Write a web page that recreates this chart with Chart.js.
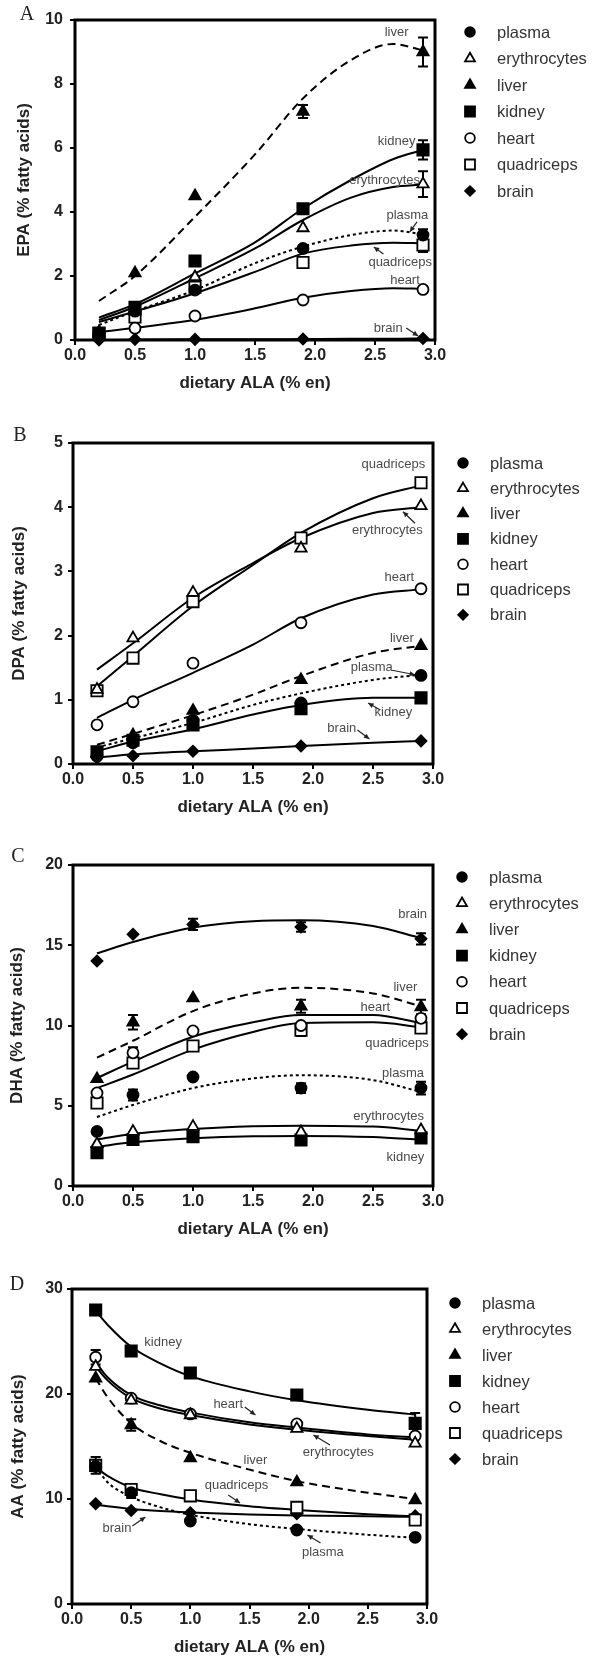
<!DOCTYPE html>
<html>
<head>
<meta charset="utf-8">
<script src="https://cdn.jsdelivr.net/npm/chart.js@4.4.1/dist/chart.umd.min.js"></script>
<style>
  body { margin: 0; background: #fff; }
  .panel { width: 592px; height: 415px; }
  canvas { display: block; }
</style>
</head>
<body>
<div class="panel"><canvas id="chartA" width="592" height="415"></canvas></div>
<div class="panel"><canvas id="chartB" width="592" height="415"></canvas></div>
<div class="panel"><canvas id="chartC" width="592" height="415"></canvas></div>
<div class="panel"><canvas id="chartD" width="592" height="415"></canvas></div>
<script>
// dietary ALA doses (% en) and the x positions where the fitted curves were read
const doses = [0.2, 0.5, 1.0, 1.9, 2.9];
const fitDosesEPA = [0.2, 0.5, 1.0, 1.5, 1.9, 2.3, 2.65, 2.9];
const fitDoses = [0.2, 0.5, 1.0, 1.5, 1.9, 2.5, 2.9];
const fitDosesAA = [0.2, 0.3, 0.5, 0.75, 1.0, 1.5, 1.9, 2.5, 2.9];
const tissues = ['plasma', 'erythrocytes', 'liver', 'kidney', 'heart', 'quadriceps', 'brain'];

// A - EPA
const epaPlasma = [0.2, 0.9, 1.56, 2.86, 3.28];
const epaEry = [0.2, 0.9, 1.97, 3.5, 4.87];
const epaLiver = [0.25, 2.09, 4.5, 7.14, 9.0];
const epaKidney = [0.22, 1.02, 2.47, 4.1, 5.94];
const epaHeart = [0.2, 0.37, 0.75, 1.25, 1.58];
const epaQuad = [0.2, 0.72, 1.65, 2.42, 2.97];
const epaBrain = [0.0, 0.02, 0.02, 0.03, 0.05];
const epaErrLiver = [0, 0, 0, 0.2, 0.45];
const epaErrKidney = [0, 0, 0, 0, 0.3];
const epaErrEry = [0, 0, 0, 0, 0.4];
const epaErrPlasma = [0, 0, 0, 0, 0.18];
const epaErrQuad = [0, 0, 0, 0, 0.22];
const epaErrHeart = [0, 0, 0, 0, 0.1];
const epaFitPlasma = [0.47, 0.9, 1.56, 2.4, 2.92, 3.28, 3.42, 3.3];
const epaFitEry = [0.62, 1.04, 1.93, 2.86, 3.75, 4.45, 4.78, 4.86];
const epaFitLiver = [1.22, 2.0, 3.85, 5.8, 7.55, 8.75, 9.25, 9.05];
const epaFitKidney = [0.7, 1.12, 2.08, 3.05, 4.11, 5.0, 5.65, 5.94];
const epaFitHeart = [0.25, 0.38, 0.63, 0.99, 1.32, 1.53, 1.62, 1.6];
const epaFitQuad = [0.56, 0.89, 1.46, 2.13, 2.7, 2.95, 3.04, 3.02];
const epaFitBrain = [0.0, 0.01, 0.02, 0.02, 0.03, 0.04, 0.04, 0.05];

// B - DPA
const dpaPlasma = [0.12, 0.33, 0.68, 0.95, 1.38];
const dpaEry = [1.16, 1.96, 2.67, 3.36, 4.02];
const dpaLiver = [0.17, 0.45, 0.83, 1.31, 1.84];
const dpaKidney = [0.19, 0.37, 0.61, 0.86, 1.03];
const dpaHeart = [0.61, 0.97, 1.57, 2.2, 2.73];
const dpaQuad = [1.14, 1.65, 2.53, 3.52, 4.38];
const dpaBrain = [0.1, 0.13, 0.2, 0.28, 0.36];
const dpaFitPlasma = [0.26, 0.4, 0.64, 0.92, 1.1, 1.31, 1.39];
const dpaFitEry = [1.47, 1.88, 2.59, 3.13, 3.52, 3.91, 4.0];
const dpaFitLiver = [0.3, 0.47, 0.76, 1.08, 1.37, 1.73, 1.84];
const dpaFitKidney = [0.2, 0.35, 0.54, 0.77, 0.92, 1.03, 1.03];
const dpaFitHeart = [0.72, 1.0, 1.42, 1.86, 2.27, 2.64, 2.72];
const dpaFitQuad = [1.21, 1.68, 2.46, 3.1, 3.6, 4.14, 4.34];
const dpaFitBrain = [0.1, 0.15, 0.2, 0.24, 0.28, 0.33, 0.36];

// C - DHA
const dhaPlasma = [3.4, 5.67, 6.79, 6.1, 6.1];
const dhaEry = [2.62, 3.39, 3.7, 3.36, 3.49];
const dhaLiver = [6.67, 10.2, 11.7, 11.2, 11.15];
const dhaKidney = [2.08, 2.9, 3.07, 2.87, 3.0];
const dhaHeart = [5.8, 8.3, 9.66, 10.0, 10.45];
const dhaQuad = [5.17, 7.66, 8.72, 9.7, 9.85];
const dhaBrain = [14.02, 15.68, 16.3, 16.14, 15.4];
const dhaErrPlasma = [0, 0.35, 0, 0.3, 0.4];
const dhaErrLiver = [0, 0.45, 0, 0.4, 0.45];
const dhaErrHeart = [0, 0.35, 0, 0, 0];
const dhaErrQuad = [0, 0, 0, 0.35, 0.3];
const dhaErrBrain = [0, 0, 0.35, 0.3, 0.35];
const dhaFitPlasma = [4.3, 5.05, 6.1, 6.7, 6.9, 6.6, 5.86];
const dhaFitEry = [2.9, 3.24, 3.55, 3.72, 3.76, 3.7, 3.45];
const dhaFitLiver = [8.0, 9.05, 10.9, 12.0, 12.35, 12.0, 11.2];
const dhaFitKidney = [2.45, 2.72, 2.97, 3.1, 3.12, 3.05, 2.88];
const dhaFitHeart = [6.73, 7.75, 9.3, 10.2, 10.65, 10.65, 10.15];
const dhaFitQuad = [6.1, 6.95, 8.5, 9.6, 10.15, 10.2, 9.9];
const dhaFitBrain = [14.5, 15.2, 16.1, 16.5, 16.55, 16.2, 15.45];

// D - AA
const aaPlasma = [13.1, 10.6, 7.9, 7.05, 6.35];
const aaEry = [22.6, 19.4, 18.0, 16.7, 15.3];
const aaLiver = [21.5, 17.05, 13.9, 11.6, 9.9];
const aaKidney = [28.0, 24.1, 22.0, 19.9, 17.2];
const aaHeart = [23.5, 19.6, 18.1, 17.15, 16.0];
const aaQuad = [13.2, 10.9, 10.3, 9.2, 8.0];
const aaBrain = [9.55, 8.9, 8.7, 8.6, 8.4];
const aaErrPlasma = [0, 0.5, 0, 0, 0];
const aaErrLiver = [0, 0.55, 0, 0, 0];
const aaErrKidney = [0, 0, 0, 0, 1.0];
const aaErrHeart = [0.7, 0, 0, 0, 0];
const aaErrQuad = [0.8, 0, 0, 0, 0];
const aaFitPlasma = [13.1, 11.6, 10.2, 9.2, 8.5, 7.6, 7.15, 6.6, 6.3];
const aaFitEry = [22.6, 21.3, 19.6, 18.6, 18.0, 17.1, 16.6, 16.0, 15.65];
const aaFitLiver = [21.5, 19.7, 17.2, 15.5, 14.4, 12.8, 11.7, 10.6, 10.0];
const aaFitKidney = [27.9, 26.6, 24.5, 22.9, 21.7, 20.25, 19.4, 18.5, 18.05];
const aaFitHeart = [23.0, 21.6, 19.9, 18.9, 18.25, 17.3, 16.8, 16.15, 15.85];
const aaFitQuad = [13.0, 12.2, 11.1, 10.45, 9.95, 9.3, 8.95, 8.55, 8.35];
const aaFitBrain = [9.45, 9.3, 9.05, 8.85, 8.72, 8.52, 8.43, 8.35, 8.3];

const none = [0, 0, 0, 0, 0];

// marker look per tissue (same order as tissues)
const markers = [
  { style: 'circle', r: 5.5, fill: '#000' },
  { style: 'triangle', r: 6.5, fill: '#fff' },
  { style: 'triangle', r: 6.5, fill: '#000' },
  { style: 'rect', r: 8, fill: '#000' },
  { style: 'circle', r: 5.5, fill: '#fff' },
  { style: 'rect', r: 8, fill: '#fff' },
  { style: 'rectRot', r: 5.5, fill: '#000' }
];
const dashes = [[3, 3], [], [8, 5], [], [], [], []];

// curve labels, in data units (arrow: from x1,y1 to x2,y2)
const notesA = [
  { t: 'liver', x: 2.68, y: 9.6 },
  { t: 'kidney', x: 2.68, y: 6.19 },
  { t: 'erythrocytes', x: 2.58, y: 5.0 },
  { t: 'plasma', x: 2.77, y: 3.9, a: [2.85, 3.69, 2.79, 3.38] },
  { t: 'quadriceps', x: 2.71, y: 2.41, a: [2.57, 2.69, 2.49, 2.91] },
  { t: 'heart', x: 2.75, y: 1.875 },
  { t: 'brain', x: 2.61, y: 0.375, a: [2.76, 0.375, 2.86, 0.125] }
];
const notesB = [
  { t: 'quadriceps', x: 2.67, y: 4.66 },
  { t: 'erythrocytes', x: 2.62, y: 3.64, a: [2.85, 3.75, 2.75, 3.93] },
  { t: 'heart', x: 2.72, y: 2.9 },
  { t: 'liver', x: 2.74, y: 1.96 },
  { t: 'plasma', x: 2.49, y: 1.5, a: [2.66, 1.46, 2.85, 1.39] },
  { t: 'kidney', x: 2.67, y: 0.81, a: [2.56, 0.84, 2.46, 0.95] },
  { t: 'brain', x: 2.24, y: 0.55, a: [2.37, 0.53, 2.47, 0.39] }
];
const notesC = [
  { t: 'brain', x: 2.83, y: 16.95 },
  { t: 'liver', x: 2.77, y: 12.4 },
  { t: 'heart', x: 2.52, y: 11.1 },
  { t: 'quadriceps', x: 2.7, y: 8.9 },
  { t: 'plasma', x: 2.75, y: 7.04 },
  { t: 'erythrocytes', x: 2.63, y: 4.36 },
  { t: 'kidney', x: 2.77, y: 1.8 }
];
const notesD = [
  { t: 'kidney', x: 0.77, y: 24.95 },
  { t: 'heart', x: 1.32, y: 19.05, a: [1.46, 18.76, 1.55, 18.0] },
  { t: 'erythrocytes', x: 2.25, y: 14.48, a: [2.18, 15.14, 2.04, 16.1] },
  { t: 'liver', x: 1.55, y: 13.7 },
  { t: 'quadriceps', x: 1.39, y: 11.33, a: [1.32, 10.38, 1.42, 9.62] },
  { t: 'brain', x: 0.38, y: 7.24, a: [0.51, 7.43, 0.62, 8.29] },
  { t: 'plasma', x: 2.12, y: 4.95, a: [2.1, 5.81, 1.99, 6.57] }
];

const panels = [
  {
    id: 'chartA', letter: 'A', yTitle: 'EPA (% fatty acids)', yMax: 10, yStep: 2,
    points: [epaPlasma, epaEry, epaLiver, epaKidney, epaHeart, epaQuad, epaBrain],
    errors: [epaErrPlasma, epaErrEry, epaErrLiver, epaErrKidney, epaErrHeart, epaErrQuad, none],
    fitX: fitDosesEPA,
    fits: [epaFitPlasma, epaFitEry, epaFitLiver, epaFitKidney, epaFitHeart, epaFitQuad, epaFitBrain],
    notes: notesA,
    area: { left: 75, right: 435, top: 20, bottom: 340 }, titlePad: 14,
    legend: { x: 470, y: 32, dy: 26.5 }, letterAt: [27, 15]
  },
  {
    id: 'chartB', letter: 'B', yTitle: 'DPA (% fatty acids)', yMax: 5, yStep: 1,
    points: [dpaPlasma, dpaEry, dpaLiver, dpaKidney, dpaHeart, dpaQuad, dpaBrain],
    errors: [none, none, none, none, none, none, none],
    fitX: fitDoses,
    fits: [dpaFitPlasma, dpaFitEry, dpaFitLiver, dpaFitKidney, dpaFitHeart, dpaFitQuad, dpaFitBrain],
    notes: notesB,
    area: { left: 73, right: 433, top: 28, bottom: 349 }, titlePad: 9,
    legend: { x: 463, y: 48, dy: 25.3 }, letterAt: [20, 21]
  },
  {
    id: 'chartC', letter: 'C', yTitle: 'DHA (% fatty acids)', yMax: 20, yStep: 5,
    points: [dhaPlasma, dhaEry, dhaLiver, dhaKidney, dhaHeart, dhaQuad, dhaBrain],
    errors: [dhaErrPlasma, none, dhaErrLiver, none, dhaErrHeart, dhaErrQuad, dhaErrBrain],
    fitX: fitDoses,
    fits: [dhaFitPlasma, dhaFitEry, dhaFitLiver, dhaFitKidney, dhaFitHeart, dhaFitQuad, dhaFitBrain],
    notes: notesC,
    area: { left: 73, right: 433, top: 35, bottom: 356 }, titlePad: 7,
    legend: { x: 462, y: 47, dy: 26.2 }, letterAt: [18, 27]
  },
  {
    id: 'chartD', letter: 'D', yTitle: 'AA (% fatty acids)', yMax: 30, yStep: 10,
    points: [aaPlasma, aaEry, aaLiver, aaKidney, aaHeart, aaQuad, aaBrain],
    errors: [aaErrPlasma, none, aaErrLiver, aaErrKidney, aaErrHeart, aaErrQuad, none],
    fitX: fitDosesAA,
    fits: [aaFitPlasma, aaFitEry, aaFitLiver, aaFitKidney, aaFitHeart, aaFitQuad, aaFitBrain],
    notes: notesD,
    area: { left: 72, right: 427, top: 44, bottom: 359 }, titlePad: 8,
    legend: { x: 455, y: 58, dy: 26 }, letterAt: [17, 40]
  }
];

function drawMarker(ctx, style, x, y, r, fill) {
  ctx.beginPath();
  if (style === 'circle') {
    ctx.arc(x, y, r, 0, Math.PI * 2);
  } else if (style === 'triangle') {
    ctx.moveTo(x, y - r);
    ctx.lineTo(x + r * 0.866, y + r / 2);
    ctx.lineTo(x - r * 0.866, y + r / 2);
    ctx.closePath();
  } else if (style === 'rect') {
    const s = r * Math.SQRT1_2;
    ctx.rect(x - s, y - s, 2 * s, 2 * s);
  } else {
    ctx.moveTo(x - r, y); ctx.lineTo(x, y - r);
    ctx.lineTo(x + r, y); ctx.lineTo(x, y + r);
    ctx.closePath();
  }
  ctx.fillStyle = fill;
  ctx.fill();
  ctx.lineWidth = 1.8;
  ctx.strokeStyle = '#000';
  ctx.stroke();
}

const framePlugin = {
  id: 'frame',
  beforeDatasetsDraw(chart) {
    const { ctx, chartArea: a } = chart;
    ctx.save();
    ctx.lineWidth = 3;
    ctx.strokeStyle = '#000';
    ctx.strokeRect(a.left, a.top, a.right - a.left, a.bottom - a.top);
    // error bars sit under the markers
    ctx.lineWidth = 2;
    const x = chart.scales.x, y = chart.scales.y;
    chart.data.datasets.forEach(ds => {
      if (!ds.errors) return;
      ds.data.forEach((pt, k) => {
        const e = ds.errors[k];
        if (!e) return;
        const px = x.getPixelForValue(pt.x);
        const top = y.getPixelForValue(pt.y + e);
        const bot = y.getPixelForValue(pt.y - e);
        ctx.beginPath();
        ctx.moveTo(px, top); ctx.lineTo(px, bot);
        ctx.moveTo(px - 5, top); ctx.lineTo(px + 5, top);
        ctx.moveTo(px - 5, bot); ctx.lineTo(px + 5, bot);
        ctx.stroke();
      });
    });
    ctx.restore();
  }
};

const notesPlugin = {
  id: 'notes',
  afterDraw(chart, args, opts) {
    const { ctx } = chart;
    const x = chart.scales.x, y = chart.scales.y;
    const p = opts.panel;
    ctx.save();
    // curve labels and arrows
    ctx.font = '13px "Liberation Sans", Arial, sans-serif';
    ctx.fillStyle = '#4a4a4a';
    ctx.textAlign = 'center';
    ctx.textBaseline = 'middle';
    p.notes.forEach(n => {
      ctx.fillText(n.t, x.getPixelForValue(n.x), y.getPixelForValue(n.y));
      if (n.a) {
        const x1 = x.getPixelForValue(n.a[0]), y1 = y.getPixelForValue(n.a[1]);
        const x2 = x.getPixelForValue(n.a[2]), y2 = y.getPixelForValue(n.a[3]);
        const ang = Math.atan2(y2 - y1, x2 - x1);
        ctx.strokeStyle = '#222';
        ctx.lineWidth = 1.2;
        ctx.beginPath(); ctx.moveTo(x1, y1); ctx.lineTo(x2, y2); ctx.stroke();
        ctx.fillStyle = '#222';
        ctx.beginPath();
        ctx.moveTo(x2, y2);
        ctx.lineTo(x2 - 6 * Math.cos(ang - 0.45), y2 - 6 * Math.sin(ang - 0.45));
        ctx.lineTo(x2 - 6 * Math.cos(ang + 0.45), y2 - 6 * Math.sin(ang + 0.45));
        ctx.closePath(); ctx.fill();
        ctx.fillStyle = '#4a4a4a';
      }
    });
    // legend
    ctx.textAlign = 'left';
    ctx.font = '16.5px "Liberation Sans", Arial, sans-serif';
    tissues.forEach((t, i) => {
      const m = markers[i];
      const ly = p.legend.y + i * p.legend.dy;
      drawMarker(ctx, m.style, p.legend.x, ly, m.r * 0.88, m.fill);
      ctx.fillStyle = '#333';
      ctx.fillText(t, p.legend.x + 27, ly + 1);
    });
    // panel letter
    ctx.fillStyle = '#222';
    ctx.textAlign = 'center';
    ctx.font = '20px "Liberation Serif", "Times New Roman", serif';
    ctx.fillText(p.letter, p.letterAt[0], p.letterAt[1]);
    ctx.restore();
  }
};

function makeChart(p) {
  const canvas = document.getElementById(p.id);
  const H = canvas.height;
  const datasets = [];
  tissues.forEach((t, i) => {
    const m = markers[i];
    datasets.push({
      label: t,
      data: doses.map((d, k) => ({ x: d, y: p.points[i][k] })),
      errors: p.errors[i],
      showLine: false,
      pointStyle: m.style,
      pointRadius: m.r,
      pointHoverRadius: m.r,
      pointBackgroundColor: m.fill,
      pointBorderColor: '#000',
      pointBorderWidth: 1.8,
      order: 0,
      clip: false
    });
  });
  tissues.forEach((t, i) => {
    datasets.push({
      label: t + ' fit',
      data: p.fitX.map((d, k) => ({ x: d, y: p.fits[i][k] })),
      borderColor: '#000',
      borderWidth: 2,
      borderDash: dashes[i],
      pointRadius: 0,
      cubicInterpolationMode: 'monotone',
      fill: false,
      order: 1
    });
  });

  const xH = H - p.area.bottom;
  new Chart(canvas, {
    type: 'line',
    data: { datasets: datasets },
    plugins: [framePlugin, notesPlugin],
    options: {
      responsive: false,
      animation: false,
      events: [],
      layout: { padding: { top: p.area.top, right: canvas.width - p.area.right, bottom: 0, left: 0 } },
      plugins: {
        legend: { display: false },
        tooltip: { enabled: false },
        notes: { panel: p }
      },
      scales: {
        x: {
          type: 'linear',
          min: 0,
          max: 3,
          afterFit: s => { s.height = xH; },
          border: { display: false },
          grid: { drawOnChartArea: false, drawTicks: true, tickLength: 5, lineWidth: 2, color: '#000' },
          ticks: {
            stepSize: 0.5,
            padding: 1,
            color: '#222',
            font: { family: '"Liberation Sans", Arial, sans-serif', size: 16, weight: 'bold' },
            callback: v => v.toFixed(1)
          },
          title: {
            display: true,
            text: 'dietary ALA (% en)',
            color: '#222',
            font: { family: '"Liberation Sans", Arial, sans-serif', size: 17, weight: 'bold' },
            padding: { top: 0, bottom: xH - 43 - 10.2 }
          }
        },
        y: {
          type: 'linear',
          min: 0,
          max: p.yMax,
          afterFit: s => { s.width = p.area.left; },
          border: { display: false },
          grid: { drawOnChartArea: false, drawTicks: true, tickLength: 5, lineWidth: 2, color: '#000' },
          ticks: {
            stepSize: p.yStep,
            padding: p.area.left - 5 - 63,
            color: '#222',
            font: { family: '"Liberation Sans", Arial, sans-serif', size: 16, weight: 'bold' }
          },
          title: {
            display: true,
            text: p.yTitle,
            color: '#222',
            font: { family: '"Liberation Sans", Arial, sans-serif', size: 17, weight: 'bold' },
            padding: { top: p.titlePad, bottom: 0 }
          }
        }
      }
    }
  });
}

panels.forEach(makeChart);
</script>
</body>
</html>
